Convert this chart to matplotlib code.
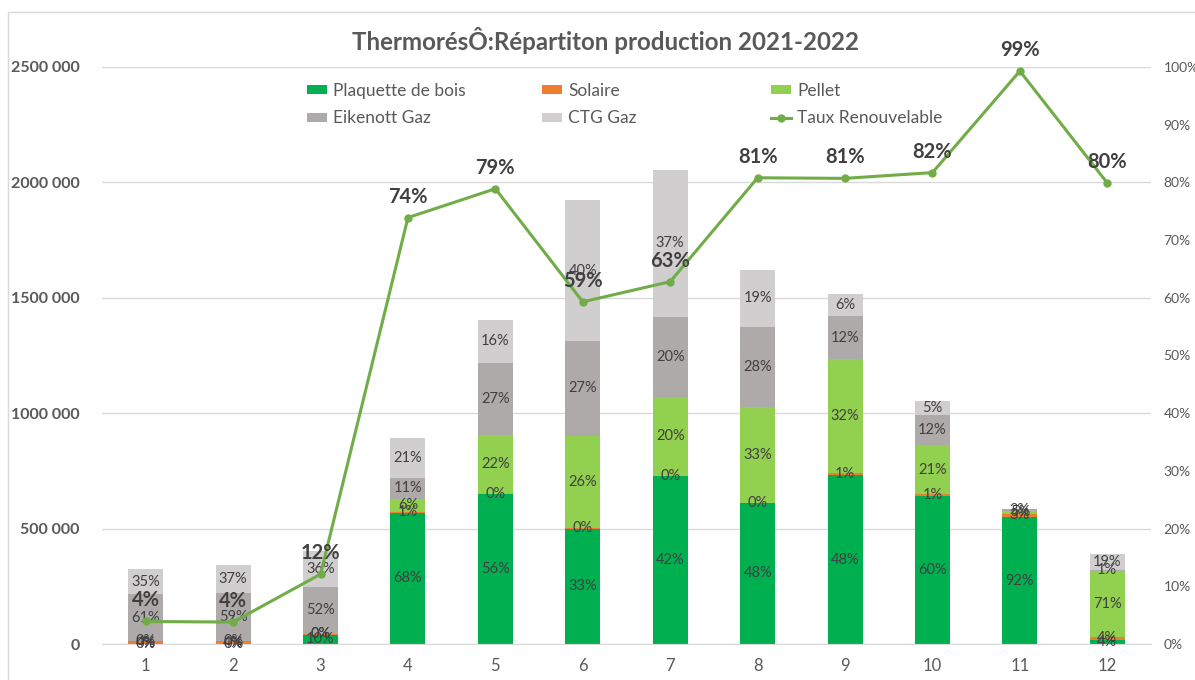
import matplotlib
matplotlib.use('Agg')
import matplotlib.pyplot as plt
from matplotlib.patches import Rectangle, Patch
from matplotlib.lines import Line2D
import numpy as np

plt.rcParams['font.family'] = ['Lato', 'DejaVu Sans']

# ---------------- data ----------------
months = ['1', '2', '3', '4', '5', '6', '7', '8', '9', '10', '11', '12']

plaquette = [0, 0, 39000, 568000, 650000, 500000, 728000, 611000, 732000, 641000, 550000, 17000]
solaire = [12000, 12000, 5000, 5000, 1000, 1000, 1000, 1000, 8000, 8000, 15000, 14000]
pellet = [0, 0, 0, 56000, 256000, 400000, 342000, 416000, 494000, 212000, 13000, 286000]
eikenott = [204000, 208000, 204000, 91000, 312000, 413000, 347000, 347000, 186000, 130000, 8000, 4000]
ctg = [108000, 121000, 156000, 173000, 186000, 608000, 637000, 247000, 95000, 60000, 0, 69000]

lab_plaquette = ['0%', '0%', '10%', '68%', '56%', '33%', '42%', '48%', '48%', '60%', '92%', '4%']
lab_solaire = ['4%', '4%', '0%', '1%', '0%', '0%', '0%', '0%', '1%', '1%', '3%', '4%']
lab_pellet = ['0%', '0%', '0%', '6%', '22%', '26%', '20%', '33%', '32%', '21%', '5%', '71%']
lab_eikenott = ['61%', '59%', '52%', '11%', '27%', '27%', '20%', '28%', '12%', '12%', '2%', '1%']
lab_ctg = ['35%', '37%', '36%', '21%', '16%', '40%', '37%', '19%', '6%', '5%', None, '19%']

taux = [0.039, 0.038, 0.121, 0.739, 0.789, 0.593, 0.628, 0.808, 0.807, 0.817, 0.993, 0.799]
taux_labels = ['4%', '4%', '12%', '74%', '79%', '59%', '63%', '81%', '81%', '82%', '99%', '80%']

left_ticks = [0, 500000, 1000000, 1500000, 2000000, 2500000]
left_tick_labels = ['0', '500 000', '1000 000', '1500 000', '2000 000', '2500 000']
right_ticks = [0.0, 0.1, 0.2, 0.3, 0.4, 0.5, 0.6, 0.7, 0.8, 0.9, 1.0]
right_tick_labels = ['0%', '10%', '20%', '30%', '40%', '50%', '60%', '70%', '80%', '90%', '100%']

title = 'ThermorésÔ:Répartiton production 2021-2022'

# ---------------- styles ----------------
C_PLAQ = '#00B050'
C_SOL = '#ED7D31'
C_PEL = '#92D050'
C_EIK = '#AEAAAA'
C_CTG = '#D0CECE'
C_LINE = '#70AD47'
C_TXT = '#595959'
C_LAB = '#404040'
C_GRID = '#D9D9D9'

W, H = 1195, 680
fig = plt.figure(figsize=(W / 100, H / 100), dpi=100)


def fx(px):
    return px / W


def fy(py):
    return 1 - py / H


ax = fig.add_axes([fx(102), fy(644), fx(1151) - fx(102), fy(67) - fy(644)])

x = np.arange(len(months))
bottoms = np.zeros(len(months))
series = [
    (plaquette, lab_plaquette, C_PLAQ, 'Plaquette de bois'),
    (solaire, lab_solaire, C_SOL, 'Solaire'),
    (pellet, lab_pellet, C_PEL, 'Pellet'),
    (eikenott, lab_eikenott, C_EIK, 'Eikenott Gaz'),
    (ctg, lab_ctg, C_CTG, 'CTG Gaz'),
]
for vals, labs, col, name in series:
    vals = np.array(vals, dtype=float)
    ax.bar(x, vals, 0.40, bottom=bottoms, color=col, label=name, zorder=2)
    for xi, v, b, lab in zip(x, vals, bottoms, labs):
        if lab is None:
            continue
        ax.text(xi, b + v / 2, lab, ha='center', va='center', fontsize=10.5,
                color=C_LAB, zorder=3)
    bottoms = bottoms + vals

ax.set_xlim(-0.5, len(months) - 0.5)
ax.set_ylim(0, 2500000)
ax.set_yticks(left_ticks)
ax.set_yticklabels(left_tick_labels, fontweight='bold', color=C_TXT, fontsize=11.5)
ax.set_xticks(x)
ax.set_xticklabels(months, fontsize=12, color=C_TXT)
ax.tick_params(axis='both', length=0)
ax.tick_params(axis='y', pad=16)
ax.tick_params(axis='x', pad=10)
ax.grid(axis='y', color=C_GRID, lw=1)
ax.set_axisbelow(True)
for s in ['top', 'left', 'right']:
    ax.spines[s].set_visible(False)
ax.spines['bottom'].set_color(C_GRID)

ax2 = ax.twinx()
ax2.plot(x, taux, color=C_LINE, lw=2.2, marker='o', ms=5, zorder=4)
ax2.set_ylim(0, 1)
ax2.set_yticks(right_ticks)
ax2.set_yticklabels(right_tick_labels, fontsize=10, color=C_TXT)
ax2.tick_params(axis='y', length=0, pad=9)
for s in ['top', 'left', 'right', 'bottom']:
    ax2.spines[s].set_visible(False)
for xi, v, lab in zip(x, taux, taux_labels):
    ax2.annotate(lab, (xi, v), xytext=(0, 21), textcoords='offset pixels',
                 ha='center', va='center', fontsize=14.5, fontweight='bold',
                 color=C_LAB, zorder=5)

# legend: three columns
h_plaq = Patch(facecolor=C_PLAQ)
h_sol = Patch(facecolor=C_SOL)
h_pel = Patch(facecolor=C_PEL)
h_eik = Patch(facecolor=C_EIK)
h_ctg = Patch(facecolor=C_CTG)
h_line = Line2D([], [], color=C_LINE, lw=2.2, marker='o', ms=5)
cols = [
    ([h_plaq, h_eik], ['Plaquette de bois', 'Eikenott Gaz'], 307),
    ([h_sol, h_ctg], ['Solaire', 'CTG Gaz'], 542),
    ([h_pel, h_line], ['Pellet', 'Taux Renouvelable'], 771),
]
for hs, ls, xp in cols:
    fig.legend(hs, ls, loc='upper left', bbox_to_anchor=(fx(xp), fy(83)),
               frameon=False, borderpad=0, borderaxespad=0, fontsize=12.5,
               handlelength=1.15, handleheight=0.45, handletextpad=0.35,
               labelspacing=0.66, labelcolor=C_TXT)

fig.text(fx(606), fy(40), title, fontsize=17.4, fontweight='bold', color=C_TXT,
         ha='center', va='center')

fig.patches.append(Rectangle((fx(8), -0.1), 1.2, fy(12) + 0.1,
                             transform=fig.transFigure, fill=False,
                             edgecolor=C_GRID, lw=1))

fig.savefig('out.png', dpi=100)
